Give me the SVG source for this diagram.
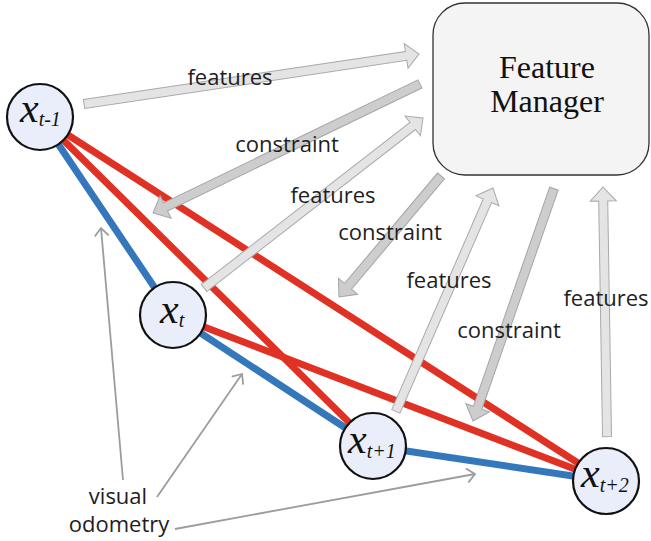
<svg xmlns="http://www.w3.org/2000/svg" width="651" height="541" viewBox="0 0 651 541">
<defs>
<style>
.blue{stroke:#3577bb;stroke-width:7;fill:none}
.red{stroke:#e03224;stroke-width:7;fill:none}
.feat{fill:#e4e4e4;stroke:#a9a9a9;stroke-width:1}
.cons{fill:#cdcdcd;stroke:#a5a5a5;stroke-width:1}
.lbl{font-family:"Open Sans","Noto Sans",sans-serif;font-size:22px;fill:#1e1e1e;text-anchor:middle}
.node{fill:#eaeefa;stroke:#111;stroke-width:2.2}
.nl{font-family:"Liberation Serif","Times New Roman",serif;font-style:italic;fill:#111}
.vo{stroke:#9c9c9c;stroke-width:1.8;fill:none;marker-end:url(#vh)}
</style>
<marker id="vh" viewBox="-10 -10 20 20" markerWidth="20" markerHeight="20" markerUnits="userSpaceOnUse" refX="0" refY="0" orient="auto">
<path d="M-8,-7 L0,0 L-8,7" fill="none" stroke="#9c9c9c" stroke-width="1.8"/>
</marker>
</defs>
<rect width="651" height="541" fill="#fff"/>
<g id="edges">
<line class="blue" x1="40" y1="117" x2="173" y2="315"/>
<line class="blue" x1="173" y1="315" x2="373" y2="446"/>
<line class="blue" x1="373" y1="446" x2="606" y2="481"/>
<line class="red" x1="40" y1="117" x2="373" y2="446"/>
<line class="red" x1="40" y1="117" x2="606" y2="481"/>
<line class="red" x1="173" y1="315" x2="606" y2="481"/>
</g>
<g id="feature-manager">
<rect x="433" y="3" width="216" height="172" rx="32" fill="#f4f4f4" stroke="#333" stroke-width="1.3"/>
<text x="547" y="78" font-family="Liberation Serif,serif" font-size="32" fill="#111" text-anchor="middle">Feature</text>
<text x="547" y="112" font-family="Liberation Serif,serif" font-size="32" fill="#111" text-anchor="middle">Manager</text>
</g>
<g id="flow-arrows">
<polygon class="feat" transform="translate(419,54) rotate(-8.49)" points="-338.7,-4.5 -13,-4.5 -13,-12.5 0,0 -13,12.5 -13,4.5 -338.7,4.5"/>
<polygon class="cons" transform="translate(153,213) rotate(154.2)" points="-296.5,-4.5 -14,-4.5 -14,-12.5 0,0 -14,12.5 -14,4.5 -296.5,4.5"/>
<polygon class="feat" transform="translate(423,118) rotate(-37.82)" points="-277.2,-4.5 -13,-4.5 -13,-12.5 0,0 -13,12.5 -13,4.5 -277.2,4.5"/>
<polygon class="cons" transform="translate(339,297) rotate(130.13)" points="-158.3,-4.5 -14,-4.5 -14,-12.5 0,0 -14,12.5 -14,4.5 -158.3,4.5"/>
<polygon class="feat" transform="translate(493,188) rotate(-66.5)" points="-243.6,-4.5 -14,-4.5 -14,-12.5 0,0 -14,12.5 -14,4.5 -243.6,4.5"/>
<polygon class="cons" transform="translate(473,421) rotate(109.2)" points="-246,-4.5 -14,-4.5 -14,-12.5 0,0 -14,12.5 -14,4.5 -246,4.5"/>
<polygon class="feat" transform="translate(603,187) rotate(-90.92)" points="-249.7,-4.5 -14,-4.5 -14,-13 0,0 -14,13 -14,4.5 -249.7,4.5"/>
</g>
<g id="flow-labels">
<text class="lbl" x="230" y="85">features</text>
<text class="lbl" x="287" y="152">constraint</text>
<text class="lbl" x="333" y="203">features</text>
<text class="lbl" x="390" y="240">constraint</text>
<text class="lbl" x="449" y="288">features</text>
<text class="lbl" x="509" y="338">constraint</text>
<text class="lbl" x="606" y="306">features</text>
</g>
<g id="visual-odometry">
<line class="vo" x1="123" y1="480" x2="101" y2="228"/>
<line class="vo" x1="157" y1="497" x2="242" y2="374"/>
<line class="vo" x1="175" y1="529" x2="475" y2="474"/>
<text class="lbl" x="118" y="504">visual</text>
<text class="lbl" x="119" y="532">odometry</text>
</g>
<g id="node-xt-1">
<circle class="node" cx="40" cy="117" r="33"/>
<text class="nl" x="20" y="122"><tspan font-size="42">x</tspan><tspan font-size="20" dy="4">t-1</tspan></text>
</g>
<g id="node-xt">
<circle class="node" cx="173" cy="315" r="33"/>
<text class="nl" x="160" y="323"><tspan font-size="42">x</tspan><tspan font-size="20" dy="4">t</tspan></text>
</g>
<g id="node-xt1">
<circle class="node" cx="373" cy="446" r="33"/>
<text class="nl" x="348" y="453"><tspan font-size="42">x</tspan><tspan font-size="20" dy="5">t+1</tspan></text>
</g>
<g id="node-xt2">
<circle class="node" cx="606" cy="481" r="33"/>
<text class="nl" x="581" y="487"><tspan font-size="42">x</tspan><tspan font-size="20" dy="5">t+2</tspan></text>
</g>
</svg>
